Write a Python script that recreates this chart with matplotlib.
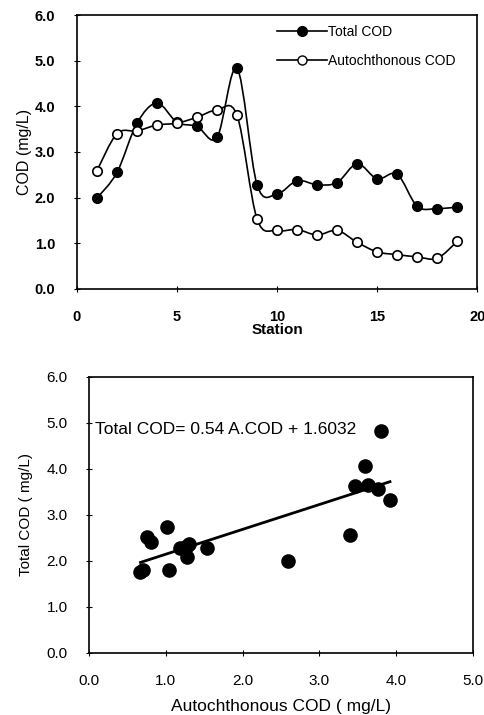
import numpy as np
import matplotlib.pyplot as plt
from matplotlib.path import Path
from matplotlib.patches import PathPatch

plt.rcParams['font.family'] = ['Liberation Sans', 'DejaVu Sans']

# donnees
station = [1, 2, 3, 4, 5, 6, 7, 8, 9, 10, 11, 12, 13, 14, 15, 16, 17, 18, 19]
total_cod = [1.99, 2.55, 3.63, 4.07, 3.65, 3.56, 3.32, 4.83, 2.28, 2.08,
             2.37, 2.28, 2.33, 2.74, 2.41, 2.51, 1.81, 1.76, 1.79]
auto_cod = [2.59, 3.40, 3.46, 3.59, 3.63, 3.76, 3.92, 3.80, 1.53, 1.28,
            1.30, 1.18, 1.28, 1.02, 0.81, 0.75, 0.70, 0.67, 1.04]
pente = 0.54
ordonnee = 1.6032


def courbe_lisse(ax, x, y, **kw):
    # courbe de Bezier facon "ligne lissee" d'Excel
    x = np.asarray(x, float)
    y = np.asarray(y, float)
    n = len(x)
    verts = [(x[0], y[0])]
    codes = [Path.MOVETO]
    for i in range(n - 1):
        i0 = max(i - 1, 0)
        i3 = min(i + 2, n - 1)
        c1 = (x[i] + (x[i + 1] - x[i0]) / 6, y[i] + (y[i + 1] - y[i0]) / 6)
        c2 = (x[i + 1] - (x[i3] - x[i]) / 6, y[i + 1] - (y[i3] - y[i]) / 6)
        verts += [c1, c2, (x[i + 1], y[i + 1])]
        codes += [Path.CURVE4] * 3
    ax.add_patch(PathPatch(Path(verts, codes), fill=False, **kw))


fig = plt.figure(figsize=(4.84, 7.15), dpi=100)

# graphique du haut
ax1 = fig.add_axes([0.159, 0.596, 0.827, 0.383])
courbe_lisse(ax1, station, total_cod, edgecolor='black', lw=1.2, zorder=2)
courbe_lisse(ax1, station, auto_cod, edgecolor='black', lw=1.2, zorder=2)
ax1.plot(station, total_cod, 'o', color='black', ms=7, zorder=3)
ax1.plot(station, auto_cod, 'o', mfc='white', mec='black', mew=1.2, ms=6.8, zorder=4)
h1, = ax1.plot([], [], '-o', color='black', ms=7, lw=1.2)
h2, = ax1.plot([], [], '-o', color='black', mfc='white', ms=6.5, lw=1.2)
ax1.legend([h1, h2], ['Total COD', 'Autochthonous COD'], loc='upper left',
           bbox_to_anchor=(0.5, 0.965), frameon=False, fontsize=10,
           handlelength=3.6, labelspacing=1.1, handletextpad=0.1,
           borderpad=0, borderaxespad=0)
ax1.set_xlim(0, 20)
ax1.set_ylim(0, 6)
ax1.set_xticks([0, 5, 10, 15, 20])
ax1.set_yticks(np.arange(0, 6.1, 1))
ax1.set_yticklabels(['%.1f' % v for v in np.arange(0, 6.1, 1)])
ax1.tick_params(direction='inout', length=5, width=0.8, labelsize=10.5, pad=13)
for lab in ax1.get_xticklabels() + ax1.get_yticklabels():
    lab.set_fontweight('bold')
ax1.set_xlabel('Station', fontsize=11, fontweight='bold', labelpad=-1)
ax1.set_ylabel('COD (mg/L)', fontsize=11.5, labelpad=2)
for s in ax1.spines.values():
    s.set_linewidth(1.2)

# graphique du bas
ax2 = fig.add_axes([0.184, 0.087, 0.793, 0.386])
ax2.plot(auto_cod, total_cod, 'o', color='black', ms=9.5, zorder=3)
xr = np.array([min(auto_cod), max(auto_cod)])
ax2.plot(xr, pente * xr + ordonnee, color='black', lw=2, zorder=2)
ax2.text(0.08, 4.85, 'Total COD= %.2f A.COD + %.4f' % (pente, ordonnee),
         fontsize=12.5, va='center', ha='left')
ax2.set_xlim(0, 5)
ax2.set_ylim(0, 6)
ax2.set_xticks(np.arange(0, 5.1, 1))
ax2.set_xticklabels(['%.1f' % v for v in np.arange(0, 5.1, 1)])
ax2.set_yticks(np.arange(0, 6.1, 1))
ax2.set_yticklabels(['%.1f' % v for v in np.arange(0, 6.1, 1)])
ax2.tick_params(direction='inout', length=5, width=0.8, labelsize=11, pad=13)
ax2.set_xlabel('Autochthonous COD ( mg/L)', fontsize=12.5, labelpad=8)
ax2.set_ylabel('Total COD ( mg/L)', fontsize=11, labelpad=10)
for s in ax2.spines.values():
    s.set_linewidth(1.2)

fig.savefig('out.png', dpi=100)
